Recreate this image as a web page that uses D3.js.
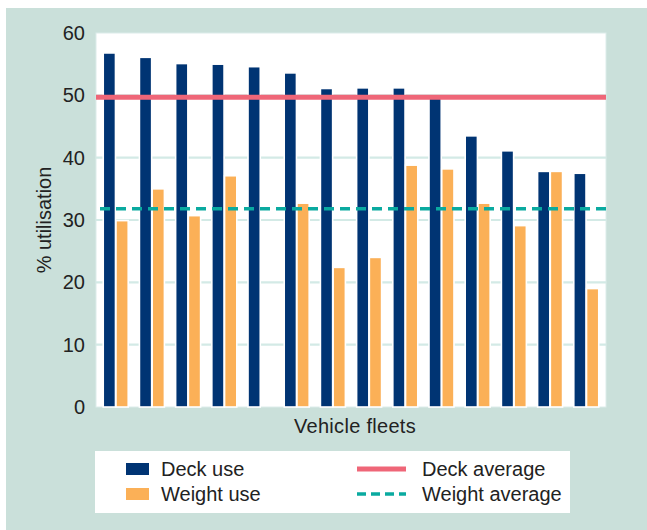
<!DOCTYPE html>
<html>
<head>
<meta charset="utf-8">
<script src="https://cdn.jsdelivr.net/npm/d3@7"></script>
<style>
  html, body { margin: 0; padding: 0; background: #ffffff; }
  svg { display: block; font-family: "Liberation Sans", Arial, sans-serif; }
</style>
</head>
<body>
<svg id="chart" width="647" height="530"></svg>
<script>
// Fleet utilisation data
const fleets = ["F1","F2","F3","F4","F5","F6","F7","F8","F9","F10","F11","F12","F13","F14"];
const deckUse   = [56.8, 56.1, 55.1, 55.0, 54.6, 53.6, 51.1, 51.2, 51.2, 49.8, 43.5, 41.1, 37.8, 37.5];
const weightUse = [29.9, 35.0, 30.7, 37.1, 0, 32.7, 22.4, 24.0, 38.8, 38.2, 32.7, 29.1, 37.8, 19.0];
const deckAverage = 49.7;
const weightAverage = 31.8;
const yTicks = [0, 10, 20, 30, 40, 50, 60];

const seriesNames = ["Deck use", "Weight use"];
const colors = { deck: "#003473", weight: "#fbb057", deckAvg: "#ef6678", weightAvg: "#0aaaa0" };
const textColor = "#222";
const fontSize = 20;

const svg = d3.select("#chart");

// Panel background
svg.append("rect").attr("x", 6).attr("y", 8).attr("width", 641).attr("height", 522).attr("fill", "#cae0da");

const plot = { left: 96, right: 606, top: 33, bottom: 407 };

svg.append("rect")
  .attr("x", plot.left).attr("y", plot.top)
  .attr("width", plot.right - plot.left).attr("height", plot.bottom - plot.top)
  .attr("fill", "#ffffff").attr("stroke", "#dcecea").attr("stroke-width", 1);

const x = d3.scaleBand().domain(fleets).range([plot.left, plot.right]).paddingInner(0.31).paddingOuter(0.2);
const xSub = d3.scaleBand().domain(seriesNames).range([0, x.bandwidth()]).paddingInner(0.04);
const y = d3.scaleLinear().domain([0, 60]).range([plot.bottom, plot.top]);

// Gridlines
svg.append("g").selectAll("line").data(yTicks.filter(t => t > 0 && t < 60)).join("line")
  .attr("x1", plot.left).attr("x2", plot.right)
  .attr("y1", d => y(d)).attr("y2", d => y(d))
  .attr("stroke", "#d3eae6").attr("stroke-width", 2.2);

// Y axis labels
const yAxis = d3.axisLeft(y).tickValues(yTicks).tickSize(0).tickPadding(11);
const yg = svg.append("g").attr("transform", `translate(${plot.left},0)`).call(yAxis);
yg.select(".domain").remove();
yg.selectAll("text").attr("font-size", fontSize).attr("fill", textColor).attr("font-family", "Liberation Sans, Arial, sans-serif");

// Bars
const rows = fleets.map((f, i) => ({ fleet: f, values: [
  { key: "Deck use", v: deckUse[i], c: colors.deck },
  { key: "Weight use", v: weightUse[i], c: colors.weight }
]}));

const groups = svg.append("g").selectAll("g").data(rows).join("g")
  .attr("transform", d => `translate(${x(d.fleet)},0)`);

groups.selectAll("rect").data(d => d.values.filter(s => s.v > 0)).join("rect")
  .attr("x", d => xSub(d.key))
  .attr("width", xSub.bandwidth())
  .attr("y", d => y(d.v))
  .attr("height", d => y(0) - y(d.v))
  .attr("fill", d => d.c)
  .attr("stroke", "#ffffff").attr("stroke-width", 1.6);

// Average lines
svg.append("line")
  .attr("x1", plot.left).attr("x2", plot.right)
  .attr("y1", y(deckAverage)).attr("y2", y(deckAverage))
  .attr("stroke", colors.deckAvg).attr("stroke-width", 5);

svg.append("line")
  .attr("x1", plot.left + 4).attr("x2", plot.right)
  .attr("y1", y(weightAverage)).attr("y2", y(weightAverage))
  .attr("stroke", colors.weightAvg).attr("stroke-width", 3.5)
  .attr("stroke-dasharray", "10,6");

// Axis titles
svg.append("text")
  .attr("x", 355).attr("y", 433)
  .attr("text-anchor", "middle").attr("font-size", fontSize).attr("fill", textColor)
  .attr("letter-spacing", 0.3)
  .text("Vehicle fleets");

svg.append("text")
  .attr("transform", "translate(51,220) rotate(-90)")
  .attr("text-anchor", "middle").attr("font-size", fontSize).attr("fill", textColor)
  .text("% utilisation");

// Legend
const lg = svg.append("g");
lg.append("rect").attr("x", 95).attr("y", 451).attr("width", 475).attr("height", 62).attr("fill", "#ffffff");

const legendItems = [
  { label: "Deck use", type: "box", color: colors.deck, x: 126, y: 469 },
  { label: "Weight use", type: "box", color: colors.weight, x: 126, y: 494 },
  { label: "Deck average", type: "line", color: colors.deckAvg, x: 357, y: 469 },
  { label: "Weight average", type: "dash", color: colors.weightAvg, x: 357, y: 494 }
];

legendItems.forEach(it => {
  if (it.type === "box") {
    lg.append("rect").attr("x", it.x).attr("y", it.y - 6).attr("width", 23).attr("height", 12).attr("fill", it.color);
    lg.append("text").attr("x", it.x + 35).attr("y", it.y + 7).attr("font-size", fontSize).attr("fill", textColor).text(it.label);
  } else {
    lg.append("line").attr("x1", it.x).attr("x2", it.x + 49).attr("y1", it.y).attr("y2", it.y)
      .attr("stroke", it.color).attr("stroke-width", it.type === "line" ? 5 : 3.5)
      .attr("stroke-dasharray", it.type === "dash" ? "9,5" : null);
    lg.append("text").attr("x", it.x + 65).attr("y", it.y + 7).attr("font-size", fontSize).attr("fill", textColor).text(it.label);
  }
});
</script>
</body>
</html>
